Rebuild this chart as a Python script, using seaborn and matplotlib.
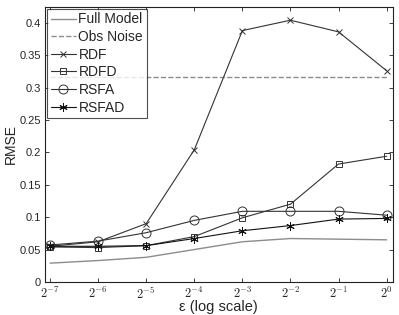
"""Reproduce RMSE vs epsilon comparison chart."""
import numpy as np
import pandas as pd
import matplotlib
matplotlib.use("Agg")
import matplotlib.pyplot as plt
import seaborn as sns

# data
exponents = [-7, -6, -5, -4, -3, -2, -1, 0]
eps = [2.0 ** e for e in exponents]
xtick_labels = [f"$2^{{{e}}}$" for e in exponents]

full_model = [0.029, 0.033, 0.038, 0.050, 0.062, 0.067, 0.066, 0.065]
obs_noise = [0.316] * len(eps)
rdf = [0.055, 0.062, 0.090, 0.204, 0.388, 0.404, 0.386, 0.326]
rdfd = [0.054, 0.053, 0.056, 0.070, 0.099, 0.120, 0.182, 0.194]
rsfa = [0.057, 0.063, 0.076, 0.095, 0.109, 0.109, 0.109, 0.103]
rsfad = [0.055, 0.055, 0.056, 0.067, 0.079, 0.087, 0.097, 0.098]

yticks = [0, 0.05, 0.1, 0.15, 0.2, 0.25, 0.3, 0.35, 0.4]
ytick_labels = ["0", "0.05", "0.1", "0.15", "0.2", "0.25", "0.3", "0.35", "0.4"]

sns.set_theme(style="white")
plt.rcParams["font.family"] = ["Liberation Sans", "DejaVu Sans"]
plt.rcParams["mathtext.fontset"] = "cm"

fig = plt.figure(figsize=(3.99, 3.15), dpi=100)
ax = fig.add_axes([0.113, 0.105, 0.871, 0.873])

# matlab style asterisk marker
asterisk = (6, 2, 0)

series = [
    ("Full Model", full_model, dict(color="#8c8c8c", lw=1.0, marker=None)),
    ("Obs Noise", obs_noise, dict(color="#8c8c8c", lw=1.0, marker=None, ls="--")),
    ("RDF", rdf, dict(color="#333333", lw=0.8, marker="x", ms=4)),
    ("RDFD", rdfd, dict(color="#333333", lw=0.8, marker="s", ms=5, mfc="none")),
    ("RSFA", rsfa, dict(color="#333333", lw=0.8, marker="o", ms=6.5, mfc="none")),
    ("RSFAD", rsfad, dict(color="#111111", lw=0.8, marker=asterisk, ms=6)),
]

for name, vals, kw in series:
    df = pd.DataFrame({"eps": eps, "rmse": vals})
    style = dict(kw)
    ls = style.pop("ls", "-")
    sns.lineplot(data=df, x="eps", y="rmse", ax=ax, label=name, linestyle=ls,
                 markeredgecolor=style["color"], markeredgewidth=0.7, **style)

ax.set_xscale("log", base=2)
ax.set_xlim(2 ** -7.104, 2 ** 0.125)
ax.set_ylim(0, 0.4245)
ax.set_xticks(eps)
ax.set_xticklabels(xtick_labels, fontsize=9)
ax.minorticks_off()
ax.set_yticks(yticks)
ax.set_yticklabels(ytick_labels, fontsize=8)
ax.tick_params(direction="in", length=3, width=0.6, color="#222222",
               top=True, right=True, bottom=True, left=True, pad=3)
ax.set_xlabel("ε (log scale)", fontsize=10.5, labelpad=-1)
ax.set_ylabel("RMSE", fontsize=10, labelpad=1)
for sp in ax.spines.values():
    sp.set_color("#222222")
    sp.set_linewidth(0.8)

leg = ax.legend(loc="upper left", fontsize=10, frameon=True, fancybox=False,
                edgecolor="#222222", handlelength=1.8, handletextpad=0.2,
                borderpad=0.25, labelspacing=0.26, borderaxespad=0.15)
leg.get_frame().set_linewidth(0.8)

fig.savefig("out.png", dpi=100)
